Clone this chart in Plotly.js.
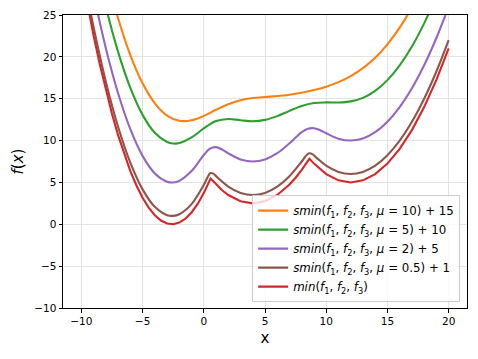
<!DOCTYPE html>
<html>
<head>
<meta charset="utf-8">
<script src="https://cdn.plot.ly/plotly-3.0.1.min.js"></script>
<style>html,body{margin:0;padding:0;background:#fff;}#chart{width:478px;height:359px;}</style>
</head>
<body>
<div id="chart"></div>
<script>
// min(f1, f2, f3)
const xMin = [-10, -9.5, -9, -8.5, -8, -7.5, -7, -6.5, -6, -5.5, -5, -4.5, -4, -3.5, -3, -2.5, -2, -1.5, -1, -0.5, 0, 0.555, 1, 1.5, 2, 3, 4, 5, 6, 7, 7.5, 8, 8.625, 9, 10, 11, 12, 13, 14, 15, 16, 17, 18, 19, 20];
const yMin = [30.12, 26.19, 22.53, 19.15, 16.04, 13.21, 10.65, 8.37, 6.36, 4.63, 3.17, 1.99, 1.08, 0.45, 0.09, 0.01, 0.20, 0.67, 1.41, 2.43, 3.72, 5.47, 4.75, 4.06, 3.5, 2.75, 2.5, 2.75, 3.5, 4.75, 5.56, 6.5, 7.85, 7.25, 6.0, 5.25, 5.0, 5.25, 6.0, 7.25, 9.0, 11.25, 14.0, 17.25, 21.0];

// smin(mu=0.5) + 1
const xMu05 = [-10, -9, -8, -7, -6, -5, -4, -3, -2.5, -2, -1, 0, 0.3, 0.55, 0.8, 1, 2, 3, 4, 5, 6, 7, 8, 8.3, 8.6, 8.9, 9.2, 10, 11, 12, 13, 14, 15, 16, 17, 18, 19, 20];
const yMu05 = [31.12, 23.53, 17.04, 11.65, 7.36, 4.17, 2.08, 1.09, 1.01, 1.20, 2.41, 4.72, 5.59, 6.12, 6.02, 5.75, 4.5, 3.75, 3.5, 3.75, 4.5, 5.75, 7.50, 8.09, 8.49, 8.35, 7.96, 7.0, 6.25, 6.0, 6.25, 7.0, 8.25, 10.0, 12.25, 15.0, 18.25, 22.0];

// smin(mu=2) + 5
const xMu2 = [-10, -9, -8, -7, -6, -5, -4, -3, -2.5, -2, -1, -0.5, 0, 0.5, 1, 1.5, 2, 3, 4, 5, 6, 7, 7.5, 8, 8.5, 9, 9.5, 10, 11, 12, 13, 14, 15, 16, 17, 18, 19, 20];
const yMu2 = [35.12, 27.53, 21.04, 15.65, 11.36, 8.17, 6.08, 5.09, 5.00, 5.19, 6.36, 7.28, 8.27, 9.03, 9.22, 8.92, 8.47, 7.75, 7.50, 7.75, 8.49, 9.67, 10.36, 11.00, 11.41, 11.48, 11.24, 10.88, 10.23, 10.0, 10.25, 11.0, 12.25, 14.0, 16.25, 19.0, 22.25, 26.0];

// smin(mu=5) + 10
const xMu5 = [-10, -9, -8, -7, -6, -5, -4, -3, -2.5, -2, -1, 0, 1, 2, 3, 4, 5, 6, 7, 8, 9, 10, 11, 12, 13, 14, 15, 16, 17, 18, 19, 20];
const yMu5 = [40.05, 32.47, 25.98, 20.59, 16.29, 13.07, 10.93, 9.83, 9.65, 9.70, 10.37, 11.45, 12.33, 12.58, 12.43, 12.31, 12.47, 12.92, 13.55, 14.13, 14.48, 14.56, 14.55, 14.68, 15.10, 15.93, 17.22, 18.99, 21.24, 24.0, 27.25, 31.0];

// smin(mu=10) + 15
const xMu10 = [-10, -9, -8, -7, -6, -5, -4, -3, -2, -1, 0, 1, 2, 3, 4, 5, 6, 7, 8, 9, 10, 11, 12, 13, 14, 15, 16, 17, 18, 19, 20];
const yMu10 = [44.0, 36.5, 30.03, 24.61, 20.22, 16.84, 14.45, 12.99, 12.36, 12.42, 12.95, 13.68, 14.35, 14.82, 15.08, 15.21, 15.32, 15.48, 15.72, 16.03, 16.44, 16.98, 17.70, 18.65, 19.90, 21.50, 23.49, 25.91, 28.77, 32.09, 35.9];

const F = '<i>f</i><sub>1</sub>, <i>f</i><sub>2</sub>, <i>f</i><sub>3</sub>';
const names = [
  '<i>smin</i>(' + F + ', <i>μ</i> = 10) + 15',
  '<i>smin</i>(' + F + ', <i>μ</i> = 5) + 10',
  '<i>smin</i>(' + F + ', <i>μ</i> = 2) + 5',
  '<i>smin</i>(' + F + ', <i>μ</i> = 0.5) + 1',
  '<i>min</i>(' + F + ')'
];
const colors = ['#ff7f0e', '#2ca02c', '#9467bd', '#8c564b', '#d62728'];
const xs = [xMu10, xMu5, xMu2, xMu05, xMin];
const ys = [yMu10, yMu5, yMu2, yMu05, yMin];
const shapes = ['spline', 'spline', 'spline', 'spline', 'linear'];

const traces = xs.map((x, i) => ({
  x: x, y: ys[i], type: 'scatter', mode: 'lines', name: names[i],
  line: {color: colors[i], width: 2.1, shape: shapes[i]}
}));

const font = {family: 'DejaVu Sans', size: 10.5, color: '#000'};
const axisCommon = {
  showline: true, mirror: true, linecolor: '#000', linewidth: 1,
  ticks: 'outside', ticklen: 3.5, tickwidth: 1, tickcolor: '#000',
  showgrid: true, gridcolor: '#e3e3e3', gridwidth: 1, zeroline: false,
  tickfont: font
};
const layout = {
  width: 478, height: 359,
  margin: {l: 63, r: 11, t: 15, b: 51},
  paper_bgcolor: '#fff', plot_bgcolor: '#fff',
  font: font,
  showlegend: true,
  xaxis: Object.assign({}, axisCommon, {
    range: [-11.5, 21.5], tickmode: 'linear', tick0: -10, dtick: 5,
    title: {text: 'x', font: {family: 'DejaVu Sans', size: 15, color: '#000'}, standoff: 6}
  }),
  yaxis: Object.assign({}, axisCommon, {
    range: [-10, 25], tickmode: 'linear', tick0: -10, dtick: 5,
    title: {text: '<i>f</i>(<i>x</i>)', font: {family: 'DejaVu Sans', size: 15, color: '#000'}, standoff: 6}
  }),
  legend: {
    x: 0.983, y: 0.02, xanchor: 'right', yanchor: 'bottom',
    bgcolor: 'rgba(255,255,255,0.8)', bordercolor: '#cccccc', borderwidth: 1,
    font: {family: 'DejaVu Sans', size: 11.8, color: '#000'},
    tracegroupgap: 0
  }
};
Plotly.newPlot('chart', traces, layout, {staticPlot: true, displayModeBar: false});
</script>
</body>
</html>
